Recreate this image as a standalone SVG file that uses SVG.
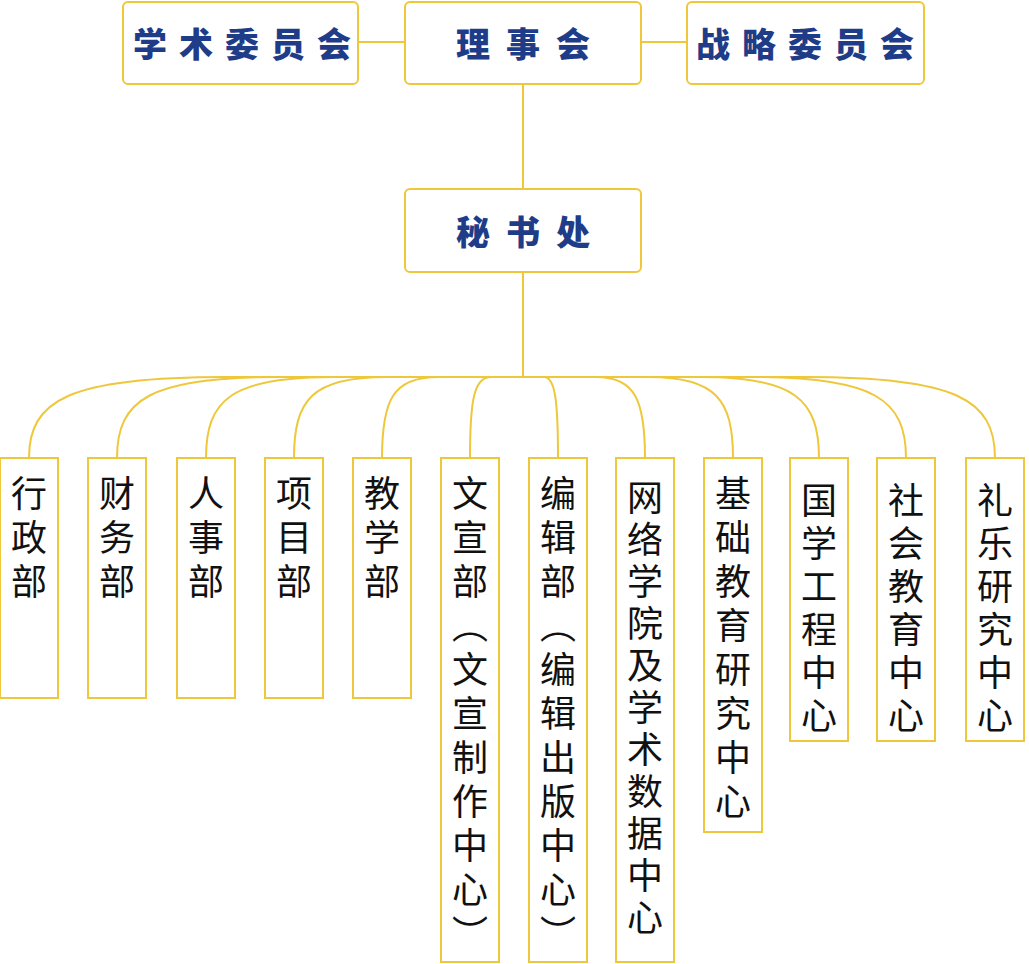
<svg xmlns="http://www.w3.org/2000/svg" width="1029" height="964" viewBox="0 0 1029 964">
<style>
.box{fill:#fff;stroke:#eec83a;stroke-width:2}
.ln{fill:none;stroke:#eec83a;stroke-width:2}
.t{font-family:"Noto Sans CJK SC","Noto Sans CJK JP",sans-serif;font-weight:900;font-size:34px;fill:#1f3c88;dominant-baseline:central;text-anchor:middle}
.v{font-family:"Noto Sans CJK SC","Noto Sans CJK JP",sans-serif;font-weight:400;font-size:36px;fill:#111;writing-mode:vertical-rl;letter-spacing:8px}
</style>
<rect width="1029" height="964" fill="#fff"/>
<g id="connectors">
<path class="ln" d="M358 42 H405 M641 42 H687 M523 84 V189 M523 272 V377"/>
<path class="ln" d="M29 458 C29 400 69 377 226 377 L523 377"/>
<path class="ln" d="M117 458 C117 400 149 377 279 377 L523 377"/>
<path class="ln" d="M206 458 C206 400 231 377 333 377 L523 377"/>
<path class="ln" d="M294 458 C294 400 312 377 386 377 L523 377"/>
<path class="ln" d="M382 458 C382 400 393 377 438 377 L523 377"/>
<path class="ln" d="M470 458 C470 400 474 377 491 377 L523 377"/>
<path class="ln" d="M558 458 C558 400 555 377 544 377 L523 377"/>
<path class="ln" d="M645 458 C645 400 635 377 596 377 L523 377"/>
<path class="ln" d="M733 458 C733 400 716 377 649 377 L523 377"/>
<path class="ln" d="M819 458 C819 400 795 377 701 377 L523 377"/>
<path class="ln" d="M906 458 C906 400 875 377 753 377 L523 377"/>
<path class="ln" d="M995 458 C995 400 957 377 806 377 L523 377"/>
</g>
<g id="n-xueshu"><rect class="box" x="123" y="2" width="235" height="82" rx="5"/><text class="t" x="248" y="42" style="letter-spacing:12px">学术委员会</text></g>
<g id="n-lishi"><rect class="box" x="405" y="2" width="236" height="82" rx="5"/><text class="t" x="531" y="42" style="letter-spacing:16px">理事会</text></g>
<g id="n-zhanlue"><rect class="box" x="687" y="2" width="237" height="82" rx="5"/><text class="t" x="811" y="42" style="letter-spacing:12px">战略委员会</text></g>
<g id="n-mishu"><rect class="box" x="405" y="189" width="236" height="83" rx="5"/><text class="t" x="531" y="230" style="letter-spacing:16px">秘书处</text></g>
<g id="d1"><rect class="box" x="0" y="458" width="58" height="240"/><text class="v" x="29" y="475">行政部</text></g>
<g id="d2"><rect class="box" x="88" y="458" width="58" height="240"/><text class="v" x="117" y="475">财务部</text></g>
<g id="d3"><rect class="box" x="177" y="458" width="58" height="240"/><text class="v" x="206" y="475">人事部</text></g>
<g id="d4"><rect class="box" x="265" y="458" width="58" height="240"/><text class="v" x="294" y="475">项目部</text></g>
<g id="d5"><rect class="box" x="353" y="458" width="58" height="240"/><text class="v" x="382" y="475">教学部</text></g>
<g id="d6"><rect class="box" x="441" y="458" width="58" height="504"/><text class="v" x="470" y="475" style="letter-spacing:8px">文宣部（文宣制作中心）</text></g>
<g id="d7"><rect class="box" x="529" y="458" width="58" height="504"/><text class="v" x="558" y="475" style="letter-spacing:8px">编辑部（编辑出版中心）</text></g>
<g id="d8"><rect class="box" x="616" y="458" width="58" height="504"/><text class="v" x="645" y="479" style="letter-spacing:6px">网络学院及学术数据中心</text></g>
<g id="d9"><rect class="box" x="704" y="458" width="58" height="374"/><text class="v" x="733" y="475">基础教育研究中心</text></g>
<g id="d10"><rect class="box" x="790" y="458" width="58" height="283"/><text class="v" x="819" y="482" style="letter-spacing:7px">国学工程中心</text></g>
<g id="d11"><rect class="box" x="877" y="458" width="58" height="283"/><text class="v" x="906" y="482" style="letter-spacing:7px">社会教育中心</text></g>
<g id="d12"><rect class="box" x="966" y="458" width="58" height="283"/><text class="v" x="995" y="482" style="letter-spacing:7px">礼乐研究中心</text></g>
</svg>
